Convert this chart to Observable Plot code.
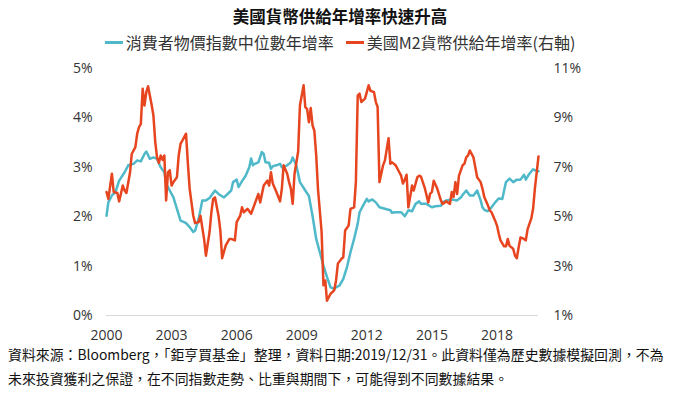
<!DOCTYPE html>
<html><head><meta charset="utf-8">
<script src="https://cdn.jsdelivr.net/npm/d3@7"></script>
<script src="https://cdn.jsdelivr.net/npm/@observablehq/plot@0.6"></script>
<style>
body{margin:0;width:680px;height:399px;overflow:hidden;background:#fff;font-family:"Open Sans","Noto Sans CJK TC",sans-serif;color:#222}
#title{height:30px;line-height:32px;text-align:center;font-weight:bold;font-size:16.5px;font-family:"Noto Sans CJK TC",sans-serif;color:#111}
#legend{height:24px;display:flex;justify-content:center;align-items:center;font-size:16px;font-family:"Noto Sans CJK TC",sans-serif;color:#333}
.sw{display:inline-block;width:18px;height:3px;margin-right:3px}
.item{display:flex;align-items:center;margin:0 6px}
#chart svg{display:block}
#foot{font-size:13.9px;line-height:24px;margin-top:-2px;padding-left:8px;white-space:nowrap;font-family:"Noto Sans CJK TC",sans-serif;color:#111}
</style></head>
<body>
<div id="title"></div>
<div id="legend"></div>
<div id="chart"></div>
<div id="foot"></div>
<script>
const titleText = "美國貨幣供給年增率快速升高";
const seriesNames = ["消費者物價指數中位數年增率", "美國M2貨幣供給年增率(右軸)"];
const seriesColors = ["#4fb9c9", "#e6451f"];
const footLines = [
  "資料來源：Bloomberg，「鉅亨買基金」整理，資料日期:2019/12/31。此資料僅為歷史數據模擬回測，不為",
  "未來投資獲利之保證，在不同指數走勢、比重與期間下，可能得到不同數據結果。"
];
const xTickYears = [2000, 2003, 2006, 2009, 2012, 2015, 2018];
const leftTicks = [0, 1, 2, 3, 4, 5];
const rightTicks = [1, 3, 5, 7, 9, 11];

// months since Jan 2000
const cpiMonths = [0,1,3,5,7,10,12,15,17,19,21,22,24,26,28,30,32,33,35,37,39,41,43,44,46,48,49,51,53,55,57,60,62,65,67,69,70,72,73,75,77,79,80,81,82,84,86,87,88,90,91,92,94,96,97,100,102,103,105,107,110,112,114,116,118,120,122,124,126,127,129,131,133,135,137,139,140,142,144,145,147,149,151,154,157,158,160,163,165,167,169,171,173,174,177,180,182,185,186,188,191,194,196,197,199,201,203,205,207,208,209,211,213,215,217,219,220,221,223,225,227,229,231,232,234,236,237,239];
const cpiValues = [2.02,2.29,2.43,2.50,2.73,2.90,3.04,3.07,3.14,3.12,3.27,3.32,3.17,3.20,3.17,3.00,2.90,2.67,2.53,2.39,2.16,1.92,1.89,1.87,1.79,1.69,1.72,1.96,2.33,2.33,2.38,2.53,2.46,2.39,2.46,2.53,2.70,2.75,2.60,2.72,2.83,3.00,3.18,3.04,3.07,3.10,3.31,3.27,3.10,3.09,2.97,3.02,3.04,3.07,3.00,3.04,3.10,3.20,3.04,2.70,2.53,2.42,2.02,1.55,1.28,1.01,0.78,0.57,0.54,0.57,0.61,0.74,0.98,1.28,1.55,1.86,2.09,2.23,2.36,2.31,2.35,2.29,2.19,2.16,2.13,2.08,2.09,2.09,2.01,2.13,2.11,2.26,2.31,2.26,2.26,2.19,2.21,2.22,2.29,2.33,2.35,2.33,2.39,2.44,2.53,2.43,2.43,2.53,2.33,2.19,2.14,2.11,2.19,2.29,2.37,2.36,2.53,2.70,2.77,2.70,2.75,2.75,2.85,2.75,2.87,2.96,2.94,2.92];

const m2Months = [0,1,3,4,6,7,9,10,11,13,14,16,17,18,19,20,21,22,23,25,26,27,28,29,30,31,32,33,34,35,36,37,39,40,41,42,44,45,46,48,49,51,52,54,55,57,58,59,60,62,63,64,66,68,69,71,72,74,75,76,78,80,82,84,85,87,89,90,91,92,94,96,97,98,100,101,102,103,104,106,107,109,110,111,112,113,114,115,116,117,119,120,121,122,124,126,127,128,130,131,132,134,135,137,138,139,140,141,143,144,145,146,148,149,150,151,153,154,156,157,158,160,162,163,164,165,166,167,169,170,172,173,174,176,178,179,180,181,183,185,186,188,190,191,192,193,194,195,197,198,199,200,201,203,204,205,207,208,209,211,212,213,215,216,217,218,220,221,222,223,225,226,227,228,229,231,232,233,235,236,237,239];
const m2Values = [6.00,5.72,6.74,6.00,5.96,5.62,6.26,6.06,5.96,6.80,7.54,7.82,8.36,8.62,8.76,10.18,9.50,10.04,10.28,9.50,9.10,8.02,7.40,7.18,7.48,7.30,7.48,5.66,6.80,6.88,6.26,6.40,6.60,7.48,7.96,8.08,8.36,7.20,6.14,5.04,4.74,4.78,5.04,4.10,3.42,4.38,5.18,5.72,5.78,5.04,4.44,3.32,3.84,4.10,4.10,4.04,4.78,5.04,5.38,5.18,5.32,5.12,5.52,5.92,5.58,6.26,6.46,6.26,6.80,6.34,6.00,5.62,6.14,7.08,6.74,6.40,6.14,5.52,6.74,7.64,9.50,10.32,9.44,9.36,8.82,9.40,8.70,8.48,7.48,6.12,4.38,2.22,2.42,1.60,1.88,2.02,2.42,3.10,3.30,3.36,4.44,4.64,5.32,5.38,6.40,9.90,9.98,9.64,9.78,10.04,10.32,10.10,10.04,9.64,9.44,6.40,7.08,7.28,8.18,7.14,7.20,7.08,6.80,6.66,6.34,6.50,6.70,5.38,6.26,6.06,6.60,6.66,6.62,6.18,5.58,5.92,6.00,6.46,6.14,5.66,5.52,5.62,5.52,6.00,5.80,6.40,5.92,6.66,7.08,7.14,7.40,7.48,7.68,7.40,7.00,6.60,6.40,6.14,5.80,5.46,5.26,5.18,4.84,4.64,4.30,4.04,3.80,3.80,4.10,3.82,3.70,3.42,3.32,3.76,4.16,4.10,4.04,4.50,4.92,5.32,6.14,7.44];

const start = new Date(Date.UTC(2000, 0, 1));
const toDate = m => d3.utcMonth.offset(start, m);
const cpi = cpiMonths.map((m, i) => ({date: toDate(m), value: cpiValues[i]}));
const m2 = m2Months.map((m, i) => ({date: toDate(m), value: m2Values[i]}));
// right axis (M2) mapped onto left scale: left = (right - 1) / 2
const toLeft = v => (v - 1) / 2;

document.getElementById("title").textContent = titleText;
const leg = document.getElementById("legend");
seriesNames.forEach((n, i) => {
  const it = document.createElement("span"); it.className = "item";
  const sw = document.createElement("span"); sw.className = "sw"; sw.style.background = seriesColors[i];
  const tx = document.createElement("span"); tx.textContent = n;
  it.appendChild(sw); it.appendChild(tx); leg.appendChild(it);
});
document.getElementById("foot").innerHTML = footLines.map(s => `<div>${s}</div>`).join("");

const chart = Plot.plot({
  width: 680, height: 290,
  marginLeft: 106, marginRight: 142, marginTop: 14, marginBottom: 29,
  x: {type: "utc", domain: [toDate(0), toDate(239)]},
  y: {domain: [0, 5]},
  style: {fontSize: "14px", fontFamily: "'Open Sans', sans-serif", color: "#333", background: "#fff"},
  marks: [
    Plot.ruleY([0], {stroke: "#d9d9d9", strokeWidth: 1}),
    Plot.axisX(xTickYears.map(y => new Date(Date.UTC(y, 0, 1))), {tickSize: 0, tickPadding: 15, tickFormat: d => String(d.getUTCFullYear()), label: null}),
    Plot.axisY(leftTicks, {anchor: "left", tickSize: 0, tickPadding: 14, tickFormat: d => d + "%", label: null}),
    Plot.axisY(rightTicks.map(toLeft), {anchor: "right", tickSize: 0, tickPadding: 15, tickFormat: d => (2 * d + 1) + "%", label: null}),
    Plot.lineY(cpi, {x: "date", y: "value", stroke: seriesColors[0], strokeWidth: 2.5}),
    Plot.lineY(m2, {x: "date", y: d => toLeft(d.value), stroke: seriesColors[1], strokeWidth: 2.5})
  ]
});
document.getElementById("chart").appendChild(chart);
</script>
</body></html>
